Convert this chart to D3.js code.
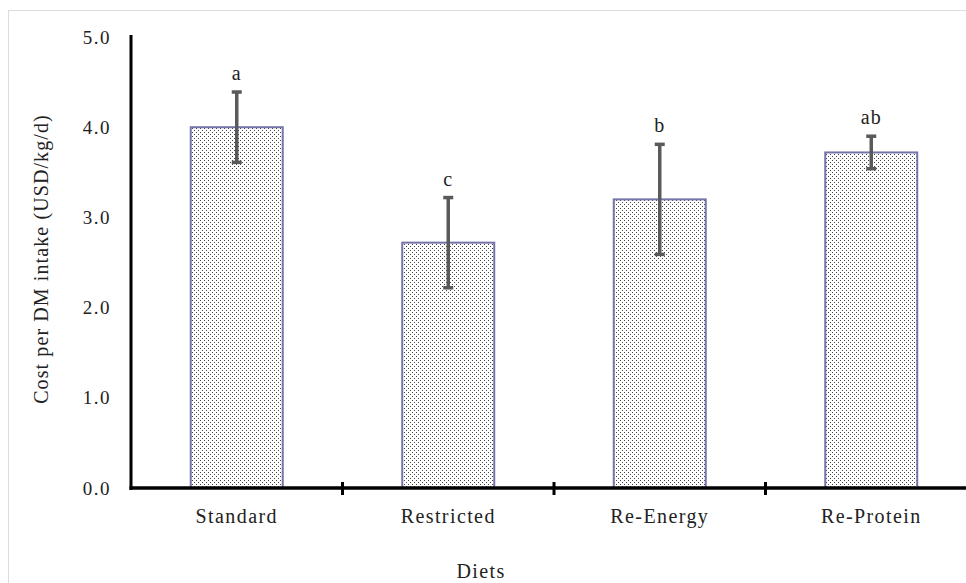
<!DOCTYPE html>
<html>
<head>
<meta charset="utf-8">
<script src="https://cdn.jsdelivr.net/npm/d3@7"></script>
<style>
  body { margin: 0; background: #fff; }
  svg { display: block; }
  svg text { font-family: "Liberation Serif", "Times New Roman", serif; fill: #222; }
</style>
</head>
<body>
<div id="chart"></div>
<script>
const diets = ["Standard", "Restricted", "Re-Energy", "Re-Protein"];
const costs = [4.0, 2.72, 3.2, 3.72];
const errors = [0.39, 0.5, 0.61, 0.18];
const letters = ["a", "c", "b", "ab"];
const yTicks = [0, 1, 2, 3, 4, 5];

const width = 966, height = 583;
const plotLeft = 131, plotTop = 37, plotBottom = 488, bandW = 211.5;

const svg = d3.select("#chart").append("svg")
    .attr("width", width)
    .attr("height", height);

// dotted fill
const pat = svg.append("defs").append("pattern")
    .attr("id", "dots")
    .attr("patternUnits", "userSpaceOnUse")
    .attr("width", 4).attr("height", 4);
pat.append("rect").attr("width", 4).attr("height", 4).attr("fill", "#fff");
pat.append("rect").attr("x", 0).attr("y", 0).attr("width", 1).attr("height", 1).attr("fill", "#444");
pat.append("rect").attr("x", 2).attr("y", 2).attr("width", 1).attr("height", 1).attr("fill", "#444");

// outer frame
svg.append("rect")
    .attr("x", 8.5).attr("y", 10.5)
    .attr("width", 1000).attr("height", 700)
    .attr("fill", "none").attr("stroke", "#dcdcdc");

const x = d3.scaleBand()
    .domain(diets)
    .range([plotLeft, plotLeft + bandW * diets.length])
    .paddingInner(0.565).paddingOuter(0.2825);
const xBounds = d3.scaleLinear().domain([0, diets.length]).range([plotLeft, plotLeft + bandW * diets.length]);

const y = d3.scaleLinear().domain([0, 5]).range([plotBottom, plotTop]);

// y tick labels (no tick marks)
const yAxis = d3.axisLeft(y).tickValues(yTicks).tickFormat(d3.format(".1f")).tickSize(0).tickPadding(20);
const gy = svg.append("g").attr("transform", `translate(${plotLeft},0)`).call(yAxis);
gy.select(".domain").remove();
gy.attr("font-family", null);
gy.selectAll("text")
    .attr("font-size", 19)
    .attr("letter-spacing", 1.5)
    .attr("fill", "#222");

// bars
svg.append("g").selectAll("rect")
    .data(diets)
    .join("rect")
    .attr("x", d => x(d))
    .attr("y", (d, i) => y(costs[i]))
    .attr("width", x.bandwidth())
    .attr("height", (d, i) => y(0) - y(costs[i]))
    .attr("fill", "url(#dots)")
    .attr("stroke", "#7575ab")
    .attr("stroke-width", 2);

// error bars
const eb = svg.append("g").attr("stroke", "#5a5a5a").attr("stroke-width", 3.5);
diets.forEach((d, i) => {
  const cx = x(d) + x.bandwidth() / 2;
  const hi = y(costs[i] + errors[i]), lo = y(costs[i] - errors[i]);
  eb.append("line").attr("x1", cx).attr("x2", cx).attr("y1", hi).attr("y2", lo);
  eb.append("line").attr("x1", cx - 5).attr("x2", cx + 5).attr("y1", hi).attr("y2", hi);
  eb.append("line").attr("x1", cx - 5).attr("x2", cx + 5).attr("y1", lo).attr("y2", lo);
});

// significance letters
svg.append("g").selectAll("text")
    .data(diets)
    .join("text")
    .attr("x", d => x(d) + x.bandwidth() / 2)
    .attr("y", (d, i) => y(costs[i] + errors[i]) - 12)
    .attr("text-anchor", "middle")
    .attr("font-size", 20)
    .attr("letter-spacing", 1)
    .text((d, i) => letters[i]);

// axis lines
svg.append("line")
    .attr("x1", plotLeft).attr("x2", plotLeft)
    .attr("y1", plotTop - 2).attr("y2", plotBottom + 2)
    .attr("stroke", "#000").attr("stroke-width", 3);
svg.append("line")
    .attr("x1", plotLeft - 1.5).attr("x2", width)
    .attr("y1", plotBottom).attr("y2", plotBottom)
    .attr("stroke", "#000").attr("stroke-width", 3.5);

// x ticks at category boundaries
svg.append("g").selectAll("line")
    .data([1, 2, 3])
    .join("line")
    .attr("x1", d => xBounds(d)).attr("x2", d => xBounds(d))
    .attr("y1", plotBottom - 6).attr("y2", plotBottom + 7)
    .attr("stroke", "#000").attr("stroke-width", 3);

// category labels
svg.append("g").selectAll("text")
    .data(diets)
    .join("text")
    .attr("x", d => x(d) + x.bandwidth() / 2)
    .attr("y", 523)
    .attr("text-anchor", "middle")
    .attr("font-size", 20)
    .attr("letter-spacing", 1.4)
    .text(d => d);

// axis titles
svg.append("text")
    .attr("x", 481).attr("y", 578)
    .attr("text-anchor", "middle")
    .attr("font-size", 20)
    .attr("letter-spacing", 1.4)
    .text("Diets");

svg.append("text")
    .attr("transform", "translate(48,259) rotate(-90)")
    .attr("text-anchor", "middle")
    .attr("font-size", 20)
    .attr("letter-spacing", 1.1)
    .text("Cost per DM intake (USD/kg/d)");
</script>
</body>
</html>
